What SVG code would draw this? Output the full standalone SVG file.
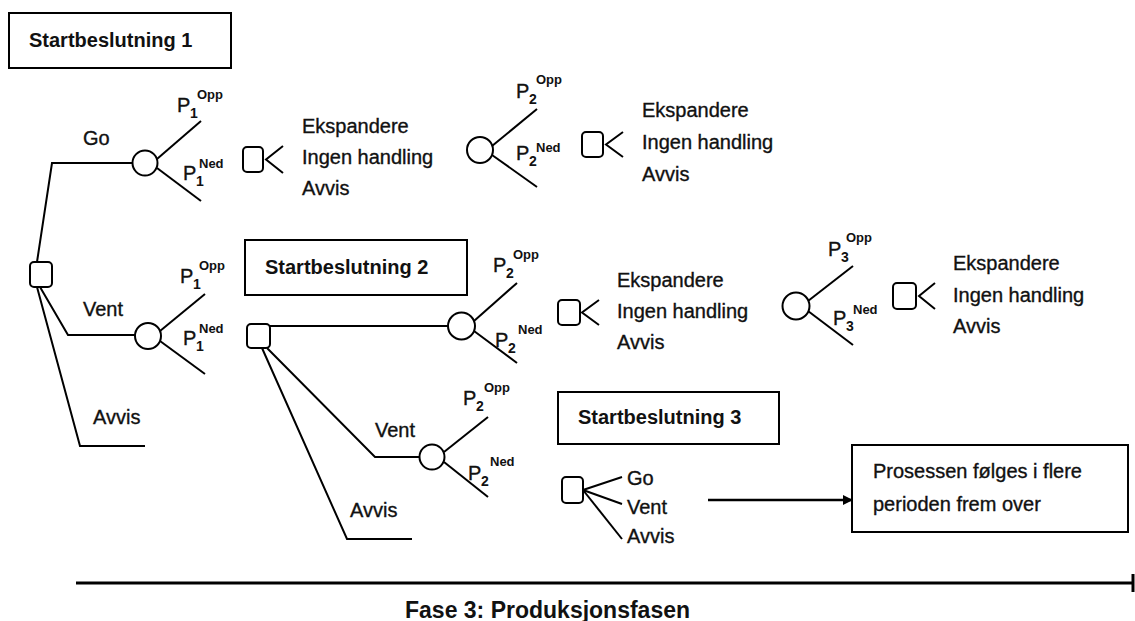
<svg xmlns="http://www.w3.org/2000/svg" width="1135" height="621" viewBox="0 0 1135 621">
<defs>
<style>
text{font-family:"Liberation Sans",Arial,sans-serif;fill:#111;}
.t{font-size:20px;stroke:#111;stroke-width:0.35;}
.b{font-size:20px;font-weight:bold;}
.s{font-size:14px;font-weight:bold;}
.u{font-size:13px;font-weight:bold;}
.box{fill:#fff;stroke:#000;stroke-width:2;}
.sq{fill:#fff;stroke:#000;stroke-width:2;}
.ci{fill:#fff;stroke:#000;stroke-width:2;}
.ln{fill:none;stroke:#000;stroke-width:2;}
</style>
<marker id="ah" markerWidth="10" markerHeight="10" refX="9" refY="5" orient="auto" markerUnits="userSpaceOnUse" viewBox="0 0 10 10">
<path d="M0,0 L10,5 L0,10 Z" fill="#000"/>
</marker>
</defs>
<rect width="1135" height="621" fill="#fff"/>

<g id="connectors">
<polyline class="ln" points="37,262 52,163 132,163"/>
<polyline class="ln" points="40,287 68,335 135,335"/>
<polyline class="ln" points="37,287 80,446 145,446"/>
<line class="ln" x1="157" y1="159" x2="201" y2="121"/>
<line class="ln" x1="157" y1="168" x2="201" y2="201"/>
<line class="ln" x1="160" y1="331" x2="205" y2="294"/>
<line class="ln" x1="160" y1="341" x2="205" y2="374"/>
<line class="ln" x1="492" y1="146" x2="537" y2="109"/>
<line class="ln" x1="492" y1="155" x2="537" y2="187"/>
<line class="ln" x1="270" y1="326" x2="448" y2="326"/>
<line class="ln" x1="474" y1="321" x2="517" y2="283"/>
<line class="ln" x1="474" y1="331" x2="517" y2="363"/>
<line class="ln" x1="808" y1="301" x2="853" y2="266"/>
<line class="ln" x1="808" y1="311" x2="853" y2="345"/>
<polyline class="ln" points="267,348 375,457 420,457"/>
<polyline class="ln" points="262,348 347,539 412,539"/>
<line class="ln" x1="444" y1="452" x2="488" y2="417"/>
<line class="ln" x1="444" y1="462" x2="488" y2="497"/>
<line class="ln" x1="583" y1="490" x2="622" y2="477"/>
<line class="ln" x1="583" y1="490" x2="622" y2="504"/>
<line class="ln" x1="583" y1="490" x2="622" y2="539"/>
<line x1="708" y1="500" x2="852" y2="500" stroke="#000" stroke-width="2.5" marker-end="url(#ah)"/>
<line x1="76" y1="583" x2="1133" y2="583" stroke="#000" stroke-width="3"/>
<line x1="1133" y1="574" x2="1133" y2="592" stroke="#000" stroke-width="3"/>
</g>

<g id="title1">
<rect class="box" x="9" y="13" width="222" height="55"/>
<text class="b" x="29" y="47">Startbeslutning 1</text>
</g>

<g id="root-decision">
<rect class="sq" x="30" y="262" width="22" height="25" rx="4"/>
<text class="t" x="83" y="145">Go</text>
<text class="t" x="83" y="316">Vent</text>
<text class="t" x="93" y="424">Avvis</text>
</g>

<g id="chance-go">
<circle class="ci" cx="145" cy="163" r="12.5"/>
<text class="t" x="177" y="112">P</text><text class="s" x="190" y="118">1</text><text class="u" x="197" y="99">Opp</text>
<text class="t" x="183" y="180">P</text><text class="s" x="196" y="186">1</text><text class="u" x="199" y="168">Ned</text>
</g>

<g id="decision-go">
<rect class="sq" x="243" y="147" width="20" height="25" rx="4"/>
<polyline class="ln" points="283,146 266,159.5 283,173"/>
<text class="t" x="302" y="133">Ekspandere</text>
<text class="t" x="302" y="164">Ingen handling</text>
<text class="t" x="302" y="195">Avvis</text>
</g>

<g id="chance-go-2">
<circle class="ci" cx="480" cy="150" r="13"/>
<text class="t" x="516" y="98">P</text><text class="s" x="529" y="104">2</text><text class="u" x="536" y="84">Opp</text>
<text class="t" x="516" y="160">P</text><text class="s" x="529" y="166">2</text><text class="u" x="536" y="152">Ned</text>
</g>

<g id="decision-go-2">
<rect class="sq" x="582" y="132" width="21" height="25" rx="4"/>
<polyline class="ln" points="623,132 606,144.5 623,157"/>
<text class="t" x="642" y="117">Ekspandere</text>
<text class="t" x="642" y="149">Ingen handling</text>
<text class="t" x="642" y="181">Avvis</text>
</g>

<g id="chance-vent">
<circle class="ci" cx="148" cy="336" r="13"/>
<text class="t" x="180" y="283">P</text><text class="s" x="193" y="289">1</text><text class="u" x="199" y="270">Opp</text>
<text class="t" x="183" y="345">P</text><text class="s" x="196" y="351">1</text><text class="u" x="199" y="333">Ned</text>
</g>

<g id="title2">
<rect class="box" x="245" y="240" width="222" height="55"/>
<text class="b" x="265" y="274">Startbeslutning 2</text>
</g>

<g id="decision-2">
<rect class="sq" x="247" y="324" width="23" height="24" rx="4"/>
<text class="t" x="375" y="437">Vent</text>
<text class="t" x="350" y="517">Avvis</text>
</g>

<g id="chance-2-go">
<circle class="ci" cx="461.5" cy="326" r="13.5"/>
<text class="t" x="493" y="272">P</text><text class="s" x="506" y="278">2</text><text class="u" x="513" y="259">Opp</text>
<text class="t" x="495" y="347">P</text><text class="s" x="508" y="353">2</text><text class="u" x="518" y="334">Ned</text>
</g>

<g id="decision-2-go">
<rect class="sq" x="558" y="300" width="22" height="25" rx="4"/>
<polyline class="ln" points="599,300 582,312.5 599,325"/>
<text class="t" x="617" y="287">Ekspandere</text>
<text class="t" x="617" y="318">Ingen handling</text>
<text class="t" x="617" y="349">Avvis</text>
</g>

<g id="chance-3">
<circle class="ci" cx="796" cy="306" r="13.5"/>
<text class="t" x="828" y="256">P</text><text class="s" x="841" y="262">3</text><text class="u" x="846" y="242">Opp</text>
<text class="t" x="833" y="325">P</text><text class="s" x="846" y="331">3</text><text class="u" x="853" y="314">Ned</text>
</g>

<g id="decision-3">
<rect class="sq" x="893" y="283" width="23" height="26" rx="4"/>
<polyline class="ln" points="935,283 919,296 935,309"/>
<text class="t" x="953" y="270">Ekspandere</text>
<text class="t" x="953" y="302">Ingen handling</text>
<text class="t" x="953" y="333">Avvis</text>
</g>

<g id="chance-2-vent">
<circle class="ci" cx="432" cy="457" r="12.5"/>
<text class="t" x="463" y="405">P</text><text class="s" x="476" y="411">2</text><text class="u" x="484" y="392">Opp</text>
<text class="t" x="468" y="480">P</text><text class="s" x="481" y="486">2</text><text class="u" x="490" y="466">Ned</text>
</g>

<g id="title3">
<rect class="box" x="558" y="392" width="221" height="52"/>
<text class="b" x="578" y="424">Startbeslutning 3</text>
</g>

<g id="decision-3b">
<rect class="sq" x="562" y="477" width="21" height="26" rx="4"/>
<text class="t" x="627" y="485">Go</text>
<text class="t" x="627" y="514">Vent</text>
<text class="t" x="627" y="543">Avvis</text>
</g>

<g id="process-box">
<rect class="box" x="852" y="445" width="276" height="87"/>
<text class="t" x="873" y="478">Prosessen følges i flere</text>
<text class="t" x="873" y="511">perioden frem over</text>
</g>

<g id="axis-label">
<text x="405" y="618" style="font-size:23px;font-weight:bold;">Fase 3: Produksjonsfasen</text>
</g>
</svg>
